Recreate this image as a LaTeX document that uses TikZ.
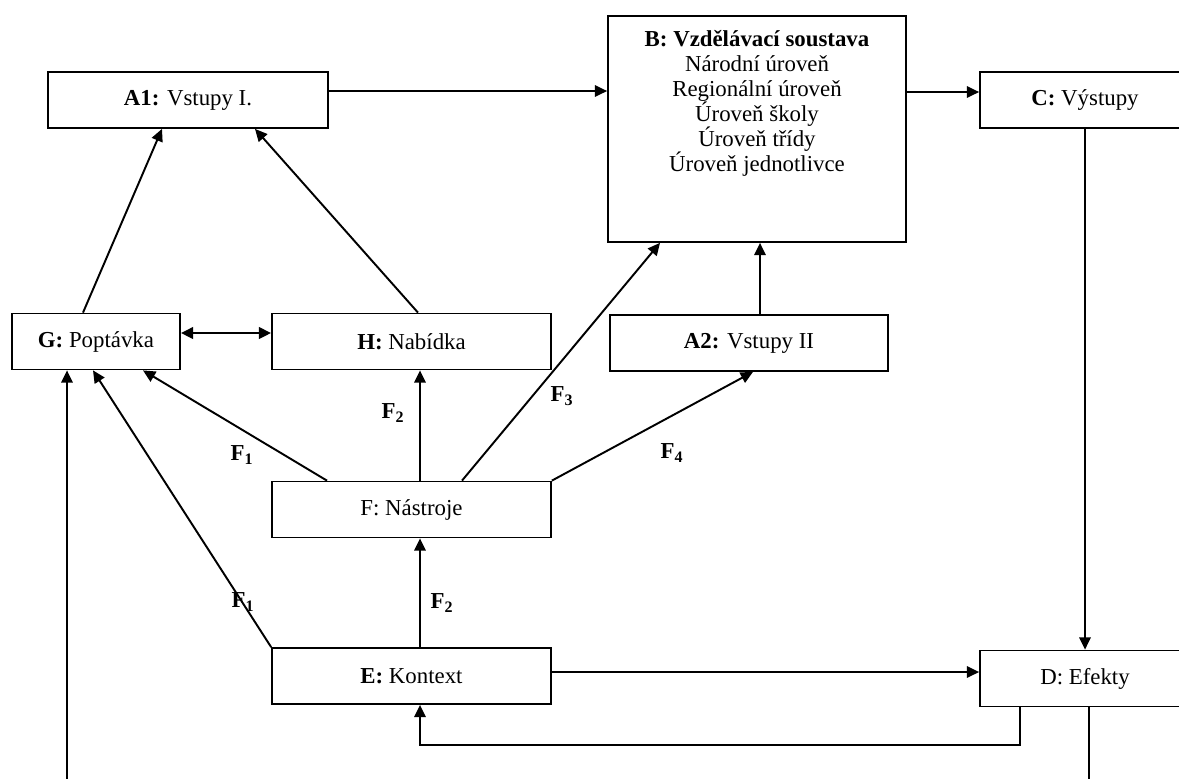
\documentclass[tikz,border=0pt]{standalone}
\usepackage{fontspec}
\setmainfont{Liberation Serif}
\usetikzlibrary{arrows.meta}

\begin{document}
\begin{tikzpicture}[x=0.02cm,y=-0.02cm,
    box/.style={draw,line width=1pt,minimum height=1.12cm,inner sep=2pt,
      font=\fontsize{13}{14.5}\selectfont},
    lbl/.style={inner sep=0pt,font=\fontsize{13}{14.5}\selectfont\bfseries},
    arr/.style={line width=1.1pt,-{Triangle[length=7pt,width=6.5pt]}}]
      \clip (0,0) rectangle (1179,778);
      \draw
        (188,100) node[box,minimum width=5.6cm] (A1){\textbf{A1:} Vstupy I.}
        (757,129) node[box,minimum width=5.96cm,minimum height=4.52cm] (B){}
        (757,30) node[anchor=north,align=center,inner sep=0pt,
          font=\fontsize{13}{14.2}\selectfont] (Btext){\textbf{B: Vzdělávací soustava}\\
          Národní úroveň\\ Regionální úroveň\\ Úroveň školy\\ Úroveň třídy\\ Úroveň jednotlivce}
        (1085,100) node[box,minimum width=4.2cm] (C){\textbf{C:} Výstupy}
        (1085,678.5) node[box,minimum width=4.2cm] (D){D: Efekty}
        (411.5,676) node[box,minimum width=5.58cm] (E){\textbf{E:} Kontext}
        (411.5,509.5) node[box,minimum width=5.58cm] (F){F: Nástroje}
        (96,341.5) node[box,minimum width=3.36cm] (G){\textbf{G:} Poptávka}
        (411.5,341.5) node[box,minimum width=5.58cm] (H){\textbf{H:} Nabídka}
        (749,343) node[box,minimum width=5.56cm] (A2){\textbf{A2:} Vstupy II};
      \draw
        (242,455) node[lbl] (F1a){F\textsubscript{1}}
        (393,413) node[lbl] (F2a){F\textsubscript{2}}
        (562,396) node[lbl] (F3){F\textsubscript{3}}
        (672,453) node[lbl] (F4){F\textsubscript{4}}
        (243,602) node[lbl] (F1b){F\textsubscript{1}}
        (442,603) node[lbl] (F2b){F\textsubscript{2}};
      \begin{scope}[arr]
        \draw ([yshift=0.18cm]A1.east) to ([yshift=0.18cm]A1.east -| B.west);
        \draw ([yshift=0.16cm]C.west -| B.east) to ([yshift=0.16cm]C.west);
        \draw (C.south) to (D.north);
        \draw ([xshift=-0.26cm]G.north) to ([xshift=-0.52cm]A1.south);
        \draw ([xshift=0.13cm]H.north) to ([xshift=1.34cm]A1.south);
        \draw[line width=1.5pt,{Triangle[length=7pt,width=6.5pt]}-{Triangle[length=7pt,width=6.5pt]}]
          ([yshift=0.17cm]G.east) to ([yshift=0.17cm]H.west);
        \draw ([xshift=-1.69cm]F.north) to ([xshift=0.94cm]G.south);
        \draw ([xshift=0.17cm]F.north) to ([xshift=0.17cm]H.south);
        \draw ([xshift=1.01cm]F.north) to ([xshift=-1.94cm]B.south);
        \draw (F.north east) to ([xshift=0.08cm]A2.south);
        \draw ([xshift=0.22cm]A2.north) to ([xshift=0.22cm]A2.north |- B.south);
        \draw ([xshift=0.17cm]E.north) to ([xshift=0.17cm]F.south);
        \draw (E.north west) to ([xshift=-0.06cm]G.south);
        \draw ([yshift=0.08cm]E.east) to ([yshift=0.08cm]E.east -| D.west);
        \draw ([xshift=-1.3cm]D.south) -- ++(0,38) -| ([xshift=0.17cm]E.south);
        \draw ([xshift=0.08cm]D.south) -- ++(0,100) -| ([xshift=-0.58cm]G.south);
      \end{scope}
    \end{tikzpicture}
\end{document}
